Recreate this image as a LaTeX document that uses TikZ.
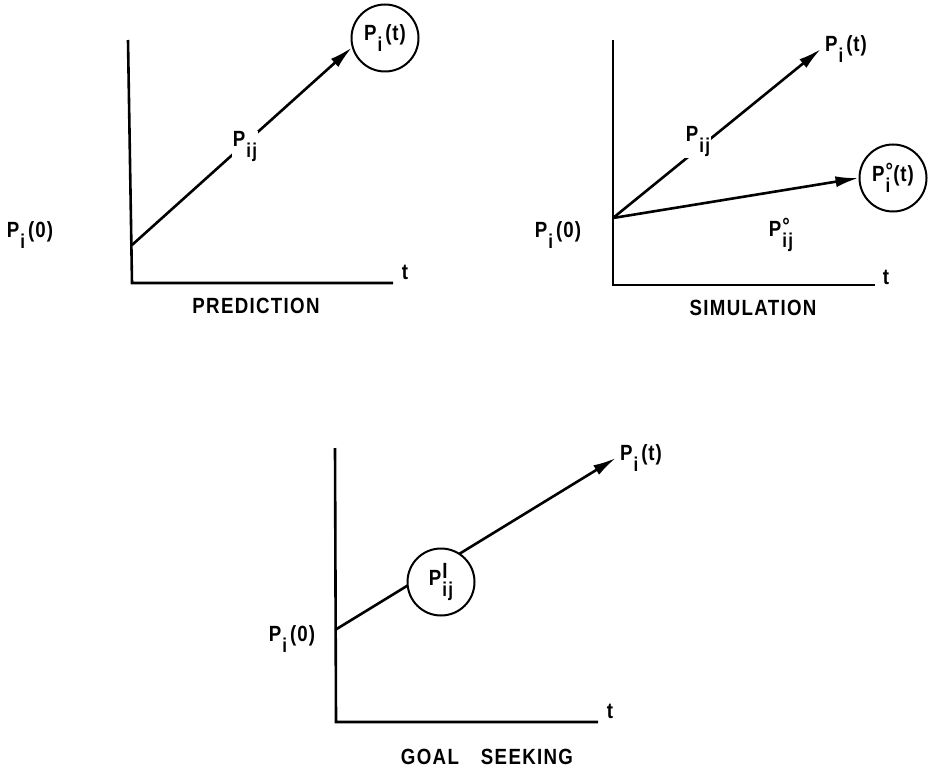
\documentclass[tikz,border=0pt]{standalone}
\usepackage{fontspec}
\setmainfont[FakeStretch=0.85,LetterSpace=6,UprightFont=* Bold]{Liberation Sans}
\usetikzlibrary{arrows.meta}
\newcommand{\lowsub}[1]{\raisebox{-11pt}{\fontsize{20}{20}\selectfont #1}}
\newcommand{\PPs}[1]{P\kern1pt\lowsub{#1}}
\newcommand{\PPss}[3]{P\kern1pt\rlap{\raisebox{#1}{\fontsize{22}{22}\selectfont #2}}\lowsub{#3}}
\newcommand{\targ}[1]{\kern3pt(\kern1pt#1\kern1pt)}
\begin{document}
\begin{tikzpicture}[x=1pt,y=-1pt,
  axis/.style={line width=2.6pt, line join=miter},
  vec/.style={line width=2.6pt, -{Latex[length=23pt,width=11pt]}},
  lbl/.style={font=\fontsize{22}{22}\selectfont, inner sep=1pt},
  ring/.style={circle, draw, line width=2pt, minimum size=67pt, inner sep=0pt, fill=white, font=\fontsize{22}{22}\selectfont},
]
\useasboundingbox (0,0) rectangle (936,770);

% ---------------- PREDICTION ----------------
\coordinate (a1top) at (128,40);
\coordinate (a1org) at (132,283);
\coordinate (a1end) at (393,283);
\draw[axis] (a1top) -- (a1org) -- (a1end);
\coordinate (o1) at (132,245);
\node[ring] (c1) at (385,38) {\PPs{i}\targ{t}};
\draw[vec] (o1) -- (c1.196);
\node[lbl, fill=white] (pij1) at (245,147) {\PPs{ij}};
\node[lbl] (p01) at (30,235) {\PPs{i}\targ{0}};
\node[lbl] (t1) at (405,272) {t};
\node[lbl] (cap1) at (256,306) {PREDICTION};

% ---------------- SIMULATION ----------------
\coordinate (a2top) at (613,40);
\coordinate (a2org) at (613,285);
\coordinate (a2end) at (875,285);
\draw[axis] (a2top) -- (a2org) -- (a2end);
\coordinate (o2) at (613,218);
\node[lbl, inner sep=4pt] (pt2) at (846,49) {\PPs{i}\targ{t}};
\node[ring] (c2) at (893,178) {\PPss{3pt}{°}{i}\targ{t}};
\draw[vec] (o2) -- (pt2.west);
\draw[vec] (o2) -- (c2.180);
\node[lbl, fill=white] (pij2) at (698,142) {\PPs{ij}};
\node[lbl] (pij2o) at (781,235) {\PPss{3pt}{°}{ij}};
\node[lbl] (p02) at (558,235) {\PPs{i}\targ{0}};
\node[lbl] (t2) at (886,277) {t};
\node[lbl] (cap2) at (753,308) {SIMULATION};

% ---------------- GOAL SEEKING ----------------
\coordinate (a3top) at (335,448);
\coordinate (a3org) at (336,722);
\coordinate (a3end) at (598,722);
\draw[axis] (a3top) -- (a3org) -- (a3end);
\coordinate (o3) at (335,630);
\node[lbl, inner sep=4pt] (pt3) at (641,458) {\PPs{i}\targ{t}};
\draw[vec] (o3) -- (pt3.west);
\node[ring] (c3) at (441,582) {\PPss{7pt}{I}{ij}};
\node[lbl] (p03) at (292,639) {\PPs{i}\targ{0}};
\node[lbl] (t3) at (610,711) {t};
\node[lbl] (cap3) at (487,757) {GOAL\quad SEEKING};
\end{tikzpicture}
\end{document}
